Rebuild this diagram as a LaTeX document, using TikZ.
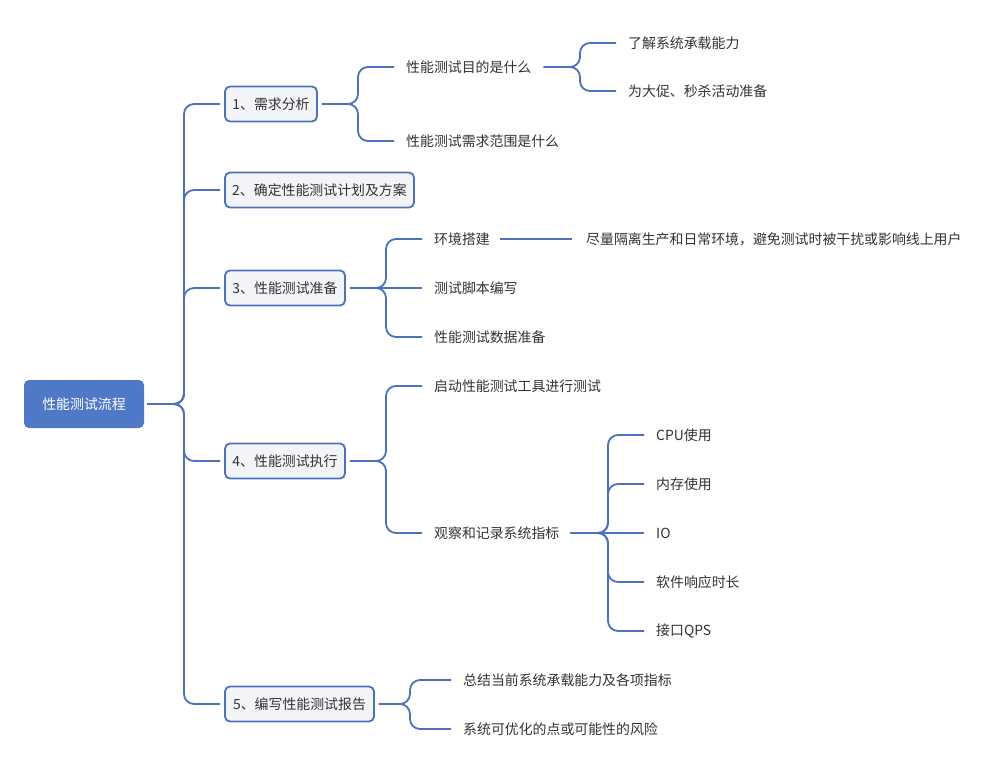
\documentclass[tikz,border=0pt]{standalone}
\usepackage{fontspec}
\setmainfont{Noto Sans CJK SC}
\definecolor{linec}{HTML}{4D72BC}
\definecolor{rootc}{HTML}{4F79C6}
\definecolor{boxfill}{HTML}{F3F4F8}
\definecolor{txt}{HTML}{333333}
\tikzset{
  conn/.style={draw=linec, line width=1.8pt, rounded corners=10pt},
  rootbox/.style={fill=rootc, rounded corners=5pt, minimum height=48pt, minimum width=120pt, text=white, font=\fontsize{13.9}{16}\selectfont, inner sep=0pt},
  lvlbox/.style={draw=linec, line width=1.8pt, fill=boxfill, rounded corners=5pt, minimum height=35pt, text=txt, font=\fontsize{13.9}{16}\selectfont, inner sep=0pt},
  leaf/.style={anchor=west, inner sep=0pt, text=txt, font=\fontsize{13.9}{16}\selectfont}
}
\begin{document}
\begin{tikzpicture}[x=1pt,y=-1pt]
\useasboundingbox[fill=white] (0,0) rectangle (996,771);
% root
\node[rootbox] (root) at (84,404) {性能测试流程};
% level 1
\node[lvlbox, minimum width=92pt]  (b1) at (271,104) {1、需求分析};
\node[lvlbox, minimum width=189pt] (b2) at (319.5,190) {2、确定性能测试计划及方案};
\node[lvlbox, minimum width=120pt] (b3) at (285,288) {3、性能测试准备};
\node[lvlbox, minimum width=120pt] (b4) at (285,461) {4、性能测试执行};
\node[lvlbox, minimum width=149pt] (b5) at (299.5,704) {5、编写性能测试报告};
% junctions
\coordinate (j0) at (184,404);
\coordinate (j1) at (358,104);
\coordinate (j1a) at (580,67);
\coordinate (j3) at (386,288);
\coordinate (j4) at (386,461);
\coordinate (j4b) at (608,533);
\coordinate (j5) at (410,704);
% leaves of 1
\node[leaf] (t1a) at (406,67) {性能测试目的是什么};
\node[leaf] (t1b) at (406,141) {性能测试需求范围是什么};
\node[leaf] (t1a1) at (628,43) {了解系统承载能力};
\node[leaf] (t1a2) at (628,91) {为大促、秒杀活动准备};
% leaves of 3
\node[leaf] (t3a) at (434,239) {环境搭建};
\node[leaf] (t3b) at (434,288) {测试脚本编写};
\node[leaf] (t3c) at (434,337) {性能测试数据准备};
\node[leaf] (t3a1) at (586,239) {尽量隔离生产和日常环境，避免测试时被干扰或影响线上用户};
% leaves of 4
\node[leaf] (t4a) at (434,386) {启动性能测试工具进行测试};
\node[leaf] (t4b) at (434,533) {观察和记录系统指标};
\node[leaf] (m1) at (656,435) {CPU使用};
\node[leaf] (m2) at (656,484) {内存使用};
\node[leaf] (m3) at (656,533) {IO};
\node[leaf] (m4) at (656,582) {软件响应时长};
\node[leaf] (m5) at (656,631) {接口QPS};
% leaves of 5
\node[leaf] (t5a) at (463,680) {总结当前系统承载能力及各项指标};
\node[leaf] (t5b) at (463,729) {系统可优化的点或可能性的风险};
% trunk
\foreach \b in {b1,b2,b3,b4,b5}
  \draw[conn] ([xshift=3pt]root.east) -- (j0) |- ([xshift=-4pt]\b.west);
% branch 1
\foreach \t in {t1a,t1b}
  \draw[conn] ([xshift=4pt]b1.east) -- (j1) |- ([xshift=-12pt]\t.west);
\foreach \t in {t1a1,t1a2}
  \draw[conn] ([xshift=12pt]t1a.east) -- (j1a) |- ([xshift=-12pt]\t.west);
% branch 3
\foreach \t in {t3a,t3c}
  \draw[conn] ([xshift=4pt]b3.east) -- (j3) |- ([xshift=-12pt]\t.west);
\draw[conn] ([xshift=4pt]b3.east) -- ([xshift=-12pt]t3b.west);
\draw[conn] ([xshift=10pt]t3a.east) -- ([xshift=-14pt]t3a1.west);
% branch 4
\foreach \t in {t4a,t4b}
  \draw[conn] ([xshift=4pt]b4.east) -- (j4) |- ([xshift=-12pt]\t.west);
\foreach \t in {m1,m2,m4,m5}
  \draw[conn] ([xshift=11pt]t4b.east) -- (j4b) |- ([xshift=-12pt]\t.west);
\draw[conn] ([xshift=11pt]t4b.east) -- ([xshift=-12pt]m3.west);
% branch 5
\foreach \t in {t5a,t5b}
  \draw[conn] ([xshift=4pt]b5.east) -- (j5) |- ([xshift=-12pt]\t.west);
\end{tikzpicture}
\end{document}
